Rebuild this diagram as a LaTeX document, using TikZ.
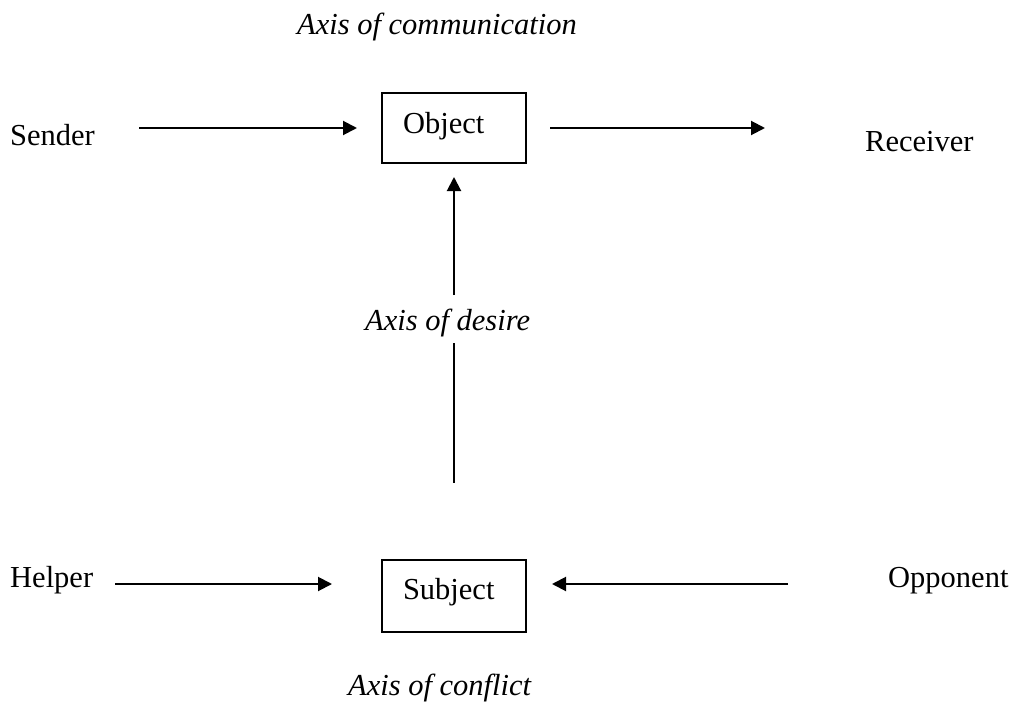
\documentclass[tikz,border=0pt]{standalone}
\usepackage{fontspec}
\setmainfont{Liberation Serif}
\usetikzlibrary{arrows.meta}
\begin{document}
\begin{tikzpicture}[x=1bp,y=-1bp,
  lbl/.style={inner sep=0pt, anchor=base west, font=\fontsize{30.5bp}{36bp}\selectfont},
  axislbl/.style={lbl, font=\fontsize{30.5bp}{36bp}\selectfont\itshape},
  box/.style={draw, line width=2bp, inner xsep=21bp, inner ysep=0pt, text width=102bp,
    align=left, anchor=north west, font=\fontsize{30.5bp}{36bp}\selectfont},
  arr/.style={line width=2bp, -{Triangle[length=14bp,width=14bp]}},
  ln/.style={line width=2bp}]
\useasboundingbox (0,0) rectangle (1019,704);

\node[box, text height=40bp, text depth=30bp] (object) at (381,92) {Object};
\node[box, text height=39bp, text depth=33bp] (subject) at (381,559) {Subject};

\node[lbl] (sender) at (10,146) {Sender};
\node[lbl] (receiver) at (865,152) {Receiver};
\node[lbl] (helper) at (10,587) {Helper};
\node[lbl] (opponent) at (888,587) {Opponent};

\node[axislbl] (comm) at (297,35) {Axis of communication};
\node[axislbl] (desire) at (365,330) {Axis of desire};
\node[axislbl] (conflict) at (348,695) {Axis of conflict};

\draw[arr, shorten <=44bp, shorten >=24bp] (sender.east |- object.west) -- (object.west);
\draw[arr, shorten <=23bp, shorten >=100bp] (object.east) -- (receiver.west |- object.east);

\coordinate (sw) at ([yshift=12bp]subject.west);
\coordinate (se) at ([yshift=12bp]subject.east);
\draw[arr, shorten <=22bp, shorten >=49bp] (helper.east |- sw) -- (sw);
\draw[arr, shorten <=100bp, shorten >=25bp] (opponent.west |- se) -- (se);

\draw[arr, shorten <=35bp, shorten >=13bp] (desire.base -| object.south) -- (object.south);
\draw[ln, shorten <=13bp, shorten >=76bp] (desire.base -| subject.north) -- (subject.north);
\end{tikzpicture}
\end{document}
